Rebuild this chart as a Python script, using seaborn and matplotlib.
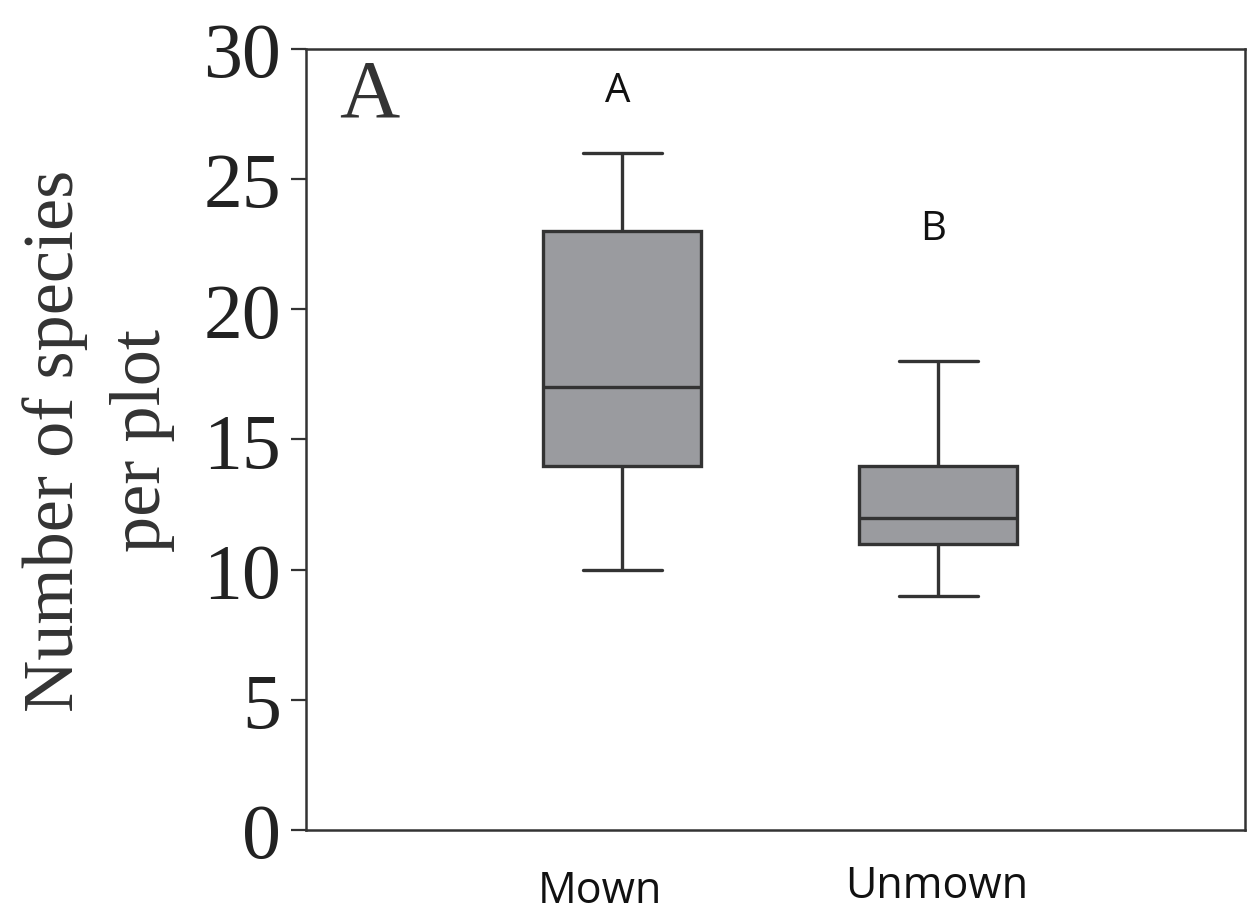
import pandas as pd
import matplotlib
matplotlib.use("Agg")
import matplotlib.pyplot as plt
import seaborn as sns

# five-number summaries (min, Q1, median, Q3, max)
groups = ["Mown", "Unmown"]
mown_values = [10, 14, 17, 23, 26]
unmown_values = [9, 11, 12, 14, 18]
letters = ["A", "B"]
letter_y = [28.4, 23.1]
y_ticks = [0, 5, 10, 15, 20, 25, 30]

df = pd.DataFrame({
    "treatment": ["Mown"] * len(mown_values) + ["Unmown"] * len(unmown_values),
    "species": mown_values + unmown_values,
})

sns.set_theme(style="white")
serif = ["Liberation Serif", "DejaVu Serif"]
sans = ["Open Sans", "DejaVu Sans"]
line_col = "#333333"

fig = plt.figure(figsize=(12.55, 9.12), dpi=100)
ax = fig.add_axes([0.2438, 0.0888, 0.7482, 0.8564])

sns.boxplot(data=df, x="treatment", y="species", order=groups, ax=ax,
            width=0.5, color="#9a9b9f", saturation=1, whis=1.5,
            linewidth=2.4, linecolor=line_col, fliersize=0)

ax.set_ylim(0, 30)
ax.set_xlim(-1.0, 1.97)
ax.set_yticks(y_ticks)
ax.set_yticklabels([str(t) for t in y_ticks], fontfamily=serif, fontsize=56, color="#222222")
ax.tick_params(axis="y", direction="out", length=11, width=1.6, color=line_col, pad=7, left=True)
ax.set_xticks([])
ax.set_xlabel("")
ax.set_ylabel("Number of species\nper plot", fontfamily=serif, fontsize=52,
              color="#333333", linespacing=1.45, labelpad=20)

for s in ax.spines.values():
    s.set_color(line_col)
    s.set_linewidth(1.8)

ax.text(-0.80, 28.2, "A", fontfamily=serif, fontsize=60, color="#333333",
        ha="center", va="center")
for i, (lab, yy) in enumerate(zip(letters, letter_y)):
    ax.text(i - 0.015, yy, lab, fontfamily=sans, fontsize=29, color="#111111",
            ha="center", va="center")

# category names sit well below the axis
trans = ax.get_xaxis_transform()
ax.text(-0.07, -0.078, groups[0], transform=trans, fontfamily=sans, fontsize=31,
        color="#111111", ha="center", va="center")
ax.text(0.995, -0.072, groups[1], transform=trans, fontfamily=sans, fontsize=31,
        color="#111111", ha="center", va="center")

fig.savefig("out.png", dpi=100)
